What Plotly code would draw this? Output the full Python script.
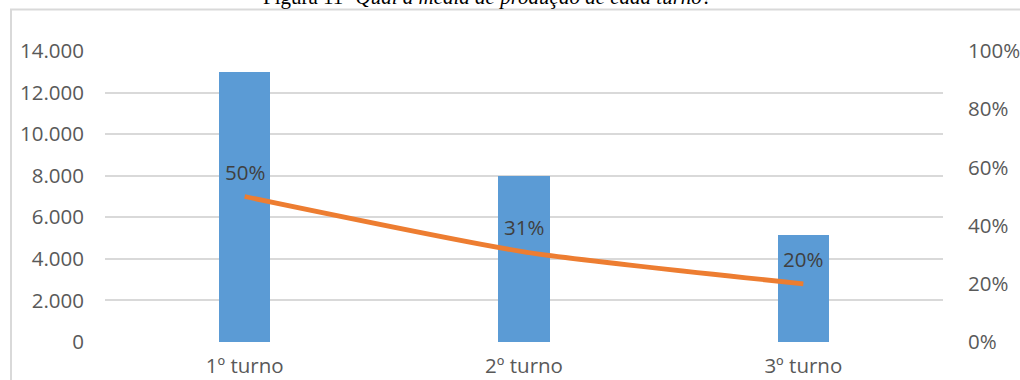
import plotly.graph_objects as go

# Production per shift and share of total
turnos = ["1º turno", "2º turno", "3º turno"]
producao = [13000, 8000, 5150]
participacao = [0.50, 0.31, 0.20]

left_ticks = [0, 2000, 4000, 6000, 8000, 10000, 12000, 14000]
right_ticks = [0, 0.2, 0.4, 0.6, 0.8, 1.0]

W, H = 1020, 380
L, R, T, B = 105, 77, 51, 38
pw, ph = W - L - R, H - T - B


def px_x(x):
    return (x - L) / pw


def px_y(y):
    return (H - B - y) / ph


font_tick = dict(family="Open Sans", size=20.5, color="#595959")

fig = go.Figure()
fig.add_trace(go.Bar(
    x=turnos, y=producao, marker=dict(color="#5B9BD5", line=dict(width=0)),
    width=0.183, yaxis="y", showlegend=False,
))
fig.add_trace(go.Scatter(
    x=turnos, y=participacao, yaxis="y2", mode="lines",
    line=dict(color="#ED7D31", width=4.8, shape="spline", smoothing=0.6),
    showlegend=False,
))

for t, p in zip(turnos, participacao):
    fig.add_annotation(
        x=t, y=p, yref="y2", text=f"{p:.0%}", showarrow=False,
        yshift=25, font=dict(family="Open Sans", size=20.5, color="#404040"),
    )

# Chart title (partially above the frame)
fig.add_annotation(
    xref="paper", yref="paper", x=px_x(488), y=px_y(11),
    xanchor="center", yanchor="bottom", showarrow=False,
    text="Figura 11- <i>Qual a média de produção de cada turno?</i>",
    font=dict(family="Liberation Serif", size=21, color="#000000"),
)

# Outer frame
fig.add_shape(
    type="rect", xref="paper", yref="paper",
    x0=px_x(11), x1=px_x(1040), y0=px_y(400), y1=px_y(9.5),
    line=dict(color="#d9d9d9", width=2), fillcolor="rgba(0,0,0,0)", layer="below",
)

fig.update_layout(
    width=W, height=H,
    margin=dict(l=L, r=R, t=T, b=B, pad=0, autoexpand=False),
    paper_bgcolor="white", plot_bgcolor="white",
    separators=",.",
    bargap=0,
    xaxis=dict(
        showgrid=False, showline=False, zeroline=False, ticks="",
        tickfont=font_tick, ticklabelstandoff=9, automargin=False,
    ),
    yaxis=dict(
        range=[0, 14000], tickvals=left_ticks, tickformat=",d",
        showgrid=True, gridcolor="#d9d9d9", gridwidth=1.5,
        zeroline=False, showline=False, ticks="",
        tickfont=font_tick, ticklabelstandoff=20, automargin=False,
    ),
    yaxis2=dict(
        range=[0, 1], tickvals=right_ticks, tickformat=".0%",
        overlaying="y", side="right", showgrid=False,
        zeroline=False, showline=False, ticks="",
        tickfont=font_tick, ticklabelstandoff=24, automargin=False,
    ),
)

fig.write_html("out.html")
